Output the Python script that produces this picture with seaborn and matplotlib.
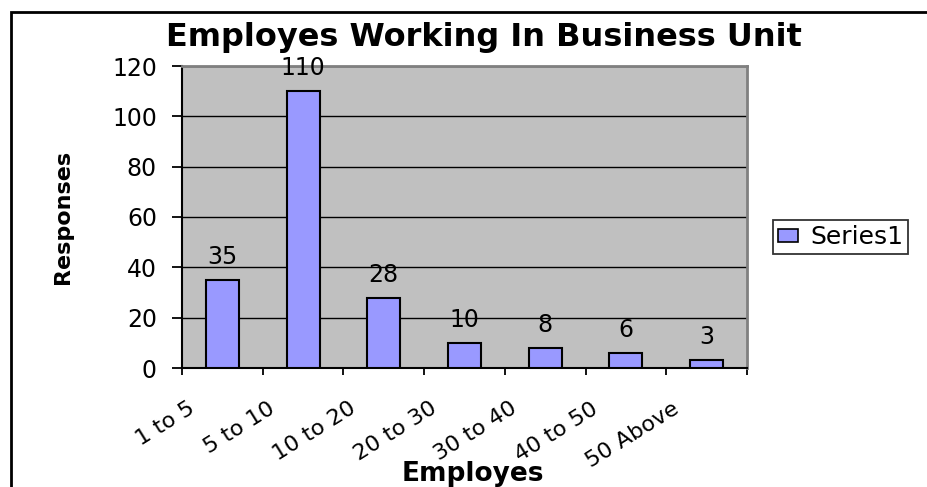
import matplotlib
matplotlib.use("Agg")
import matplotlib.pyplot as plt
import matplotlib.patches as mpatches
import seaborn as sns
import numpy as np
import pandas as pd

categories = ["1 to 5", "5 to 10", "10 to 20", "20 to 30", "30 to 40", "40 to 50", "50 Above"]
responses = [35, 110, 28, 10, 8, 6, 3]
y_ticks = [0, 20, 40, 60, 80, 100, 120]
series_name = "Series1"
title = "Employes Working In Business Unit"
x_title = "Employes"
y_title = "Responses"

BAR = "#9999FF"
PLOT_BG = "#C0C0C0"

sns.set_theme(style="white")
plt.rcParams["font.family"] = ["DejaVu Sans"]
plt.rcParams["text.color"] = "black"
plt.rcParams["axes.labelcolor"] = "black"
plt.rcParams["xtick.color"] = "black"
plt.rcParams["ytick.color"] = "black"

W, H = 928, 487
fig = plt.figure(figsize=(W / 100, H / 100), dpi=100)
fig.patch.set_facecolor("white")

left, right, top, bottom = 182, 747, 66, 368
ax = fig.add_axes([left / W, 1 - bottom / H, (right - left) / W, (bottom - top) / H])
ax.set_facecolor(PLOT_BG)

df = pd.DataFrame({"cat": categories, "val": responses})
sns.barplot(data=df, x="cat", y="val", color=BAR, saturation=1,
            edgecolor="black", linewidth=1.5, width=0.41, ax=ax, zorder=3)

ax.set_xlim(-0.5, len(categories) - 0.5)
ax.set_ylim(0, 120)
ax.set_yticks(y_ticks)
ax.set_yticklabels([str(t) for t in y_ticks], fontsize=17, color="black")
ax.yaxis.grid(True, color="black", linewidth=1.0)
ax.set_axisbelow(True)

# category boundary ticks
n = len(categories)
ax.set_xticks(np.arange(n + 1) - 0.5)
ax.set_xticklabels([""] * (n + 1))
ax.set_xticks(np.arange(n) - 0.37, minor=True)
ax.set_xticklabels(categories, minor=True, fontsize=16, color="black")
ax.tick_params(axis="x", which="major", direction="out", length=5, width=1.3,
               color="black", bottom=True)
ax.tick_params(axis="x", which="minor", length=0, pad=28)
for lab in ax.get_xticklabels(minor=True):
    lab.set_rotation(32)
    lab.set_ha("right")
    lab.set_va("center")
    lab.set_rotation_mode("anchor")
ax.tick_params(axis="y", direction="out", length=7, width=1.3, color="black",
               pad=11, left=True)

for s in ["left", "bottom"]:
    ax.spines[s].set_color("black")
    ax.spines[s].set_linewidth(1.5)
for s in ["top", "right"]:
    ax.spines[s].set_color("#808080")
    ax.spines[s].set_linewidth(2.0)

for i, v in enumerate(responses):
    ax.annotate(str(v), xy=(i, v), xytext=(0, 11.5), textcoords="offset points",
                ha="center", va="baseline", fontsize=17, color="black", zorder=5)

ax.set_xlabel(x_title, fontsize=19, fontweight="bold", va="baseline", color="black")
ax.xaxis.set_label_coords((473 - left) / (right - left), -(481 - bottom) / (bottom - top))
ax.set_ylabel(y_title, fontsize=16, fontweight="bold", va="center", color="black")
ax.yaxis.set_label_coords((63 - left) / (right - left), 0.5)

fig.text(484 / W, 1 - 46 / H, title, fontsize=23, fontweight="bold",
         ha="center", va="baseline", color="black")

handle = mpatches.Patch(facecolor=BAR, edgecolor="black", linewidth=1.2)
leg = fig.legend([handle], [series_name], loc="center left",
                 bbox_to_anchor=(773 / W, 1 - 237 / H), fontsize=18,
                 frameon=True, fancybox=False, borderpad=0.2,
                 handlelength=0.8, handleheight=0.42, handletextpad=0.5,
                 borderaxespad=0)
leg.get_frame().set_edgecolor("black")
leg.get_frame().set_linewidth(1.3)
leg.get_frame().set_facecolor("white")
for t in leg.get_texts():
    t.set_color("black")

border = mpatches.Rectangle((11 / W, -0.05), 1.1, 1 - 11.5 / H + 0.05,
                            transform=fig.transFigure, fill=False,
                            edgecolor="black", linewidth=2.0, zorder=10)
fig.patches.append(border)

fig.savefig("out.png", dpi=100)
